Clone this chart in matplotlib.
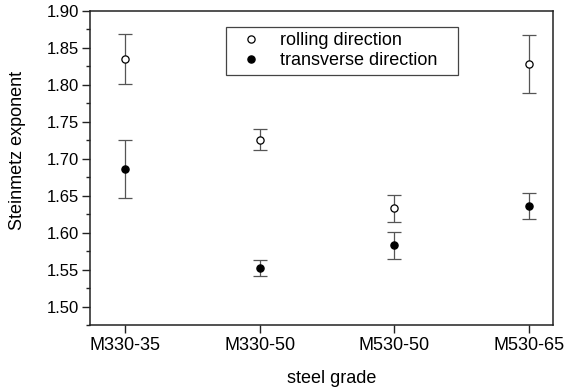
import matplotlib
matplotlib.use("Agg")
import matplotlib.pyplot as plt
from matplotlib.ticker import MultipleLocator

plt.rcParams['font.family'] = ['Liberation Sans', 'DejaVu Sans']

grades = ["M330-35", "M330-50", "M530-50", "M530-65"]
rolling = [1.835, 1.726, 1.633, 1.828]
rolling_err = [0.034, 0.014, 0.018, 0.039]
transverse = [1.686, 1.552, 1.583, 1.636]
transverse_err = [0.039, 0.0105, 0.0185, 0.017]

fig = plt.figure(figsize=(5.64, 3.90), dpi=100)
ax = fig.add_axes([90/564, 65/390, 463/564, 314/390])

x = list(range(len(grades)))
ax.errorbar(x, rolling, yerr=rolling_err, fmt='o', mfc='white', mec='black',
            mew=0.9, ms=5.2, ecolor='#555555', elinewidth=0.9, capsize=4.8,
            capthick=0.9, label='rolling direction')
ax.errorbar(x, transverse, yerr=transverse_err, fmt='o', mfc='black', mec='black',
            mew=0.9, ms=5.2, ecolor='#555555', elinewidth=0.9, capsize=4.8,
            capthick=0.9, label='transverse direction')

ax.set_xlim(-0.26, 3.18)
ax.set_ylim(1.475, 1.90)
ax.set_xticks(x)
ax.set_xticklabels(grades)
ax.yaxis.set_major_locator(MultipleLocator(0.05))
ax.yaxis.set_minor_locator(MultipleLocator(0.025))
ax.yaxis.set_major_formatter(matplotlib.ticker.FormatStrFormatter('%.2f'))

for s in ax.spines.values():
    s.set_linewidth(1.1)
    s.set_color('#222222')
ax.tick_params(axis='y', which='major', direction='out', length=6, width=1.0,
               labelsize=12, pad=2, color='#222222')
ax.tick_params(axis='y', which='minor', direction='out', length=3, width=1.0, color='#222222')
ax.tick_params(axis='x', which='major', direction='out', length=6, width=1.0,
               labelsize=13, pad=2.5, color='#222222')

ax.set_xlabel('steel grade', fontsize=13)
ax.set_ylabel('Steinmetz exponent', fontsize=13)
ax.xaxis.set_label_coords(0.522, -0.143)
ax.yaxis.set_label_coords(-0.138, 0.557)

handles, labels = ax.get_legend_handles_labels()
handles = [h[0] for h in handles]
leg = ax.legend(handles, labels, loc='upper left',
                bbox_to_anchor=(135.7/463, 298/314, 232.3/463, 0.0),
                mode='expand', borderaxespad=0, fontsize=13, frameon=True,
                fancybox=False, edgecolor='#444444', framealpha=1,
                handlelength=2.2, handletextpad=0.5, labelspacing=0.15,
                borderpad=0.3)
leg.get_frame().set_linewidth(0.9)

fig.savefig('out.png', dpi=100)
